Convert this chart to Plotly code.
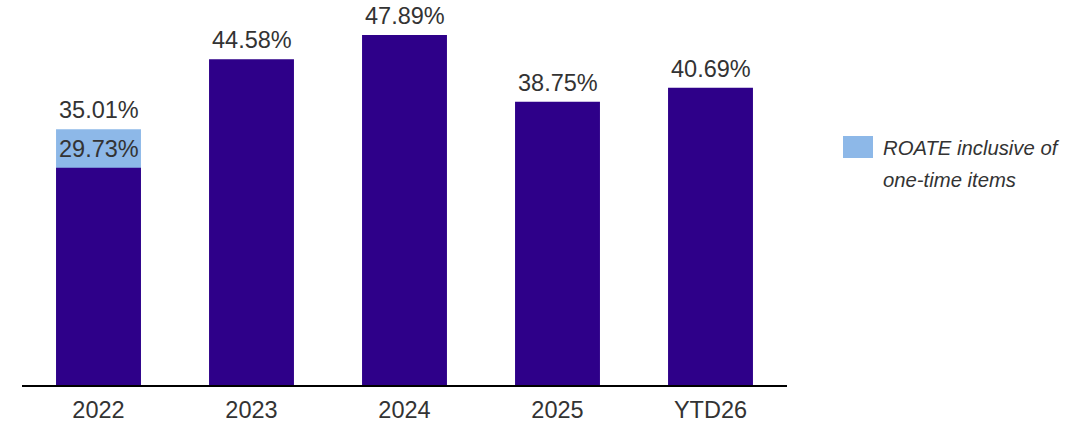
import plotly.graph_objects as go

categories = ["2022", "2023", "2024", "2025", "YTD26"]
roate_values = [29.73, 44.58, 47.89, 38.75, 40.69]
inclusive_categories = ["2022"]
inclusive_values = [35.01]
legend_lines = ["ROATE inclusive of", "one-time items"]

DARK = "#2E0089"
LIGHT = "#8DB8E8"
FONT = "Liberation Sans"
TXT = "#333333"
LABEL_SIZE = 23.5

fig = go.Figure()
fig.add_trace(go.Bar(
    x=inclusive_categories, y=inclusive_values,
    marker=dict(color=LIGHT, line=dict(width=0)),
    name="ROATE inclusive of one-time items", showlegend=False,
))
fig.add_trace(go.Bar(
    x=categories, y=roate_values,
    marker=dict(color=DARK, line=dict(width=0)),
    name="ROATE", showlegend=False,
))

for cat, val in list(zip(inclusive_categories, inclusive_values)) + list(zip(categories, roate_values)):
    fig.add_annotation(x=categories.index(cat), y=val, xref="x", yref="y",
                       text=f"{val:.2f}%", showarrow=False,
                       yanchor="middle", yshift=19,
                       font=dict(family=FONT, size=LABEL_SIZE, color=TXT))

fig.add_shape(type="rect", xref="paper", yref="paper",
              x0=(843 - 22) / 765, x1=(873 - 22) / 765,
              y0=(385 - 158) / 385, y1=(385 - 136) / 385,
              fillcolor=LIGHT, line=dict(width=0))
for i, line in enumerate(legend_lines):
    fig.add_annotation(xref="paper", yref="paper",
                       x=(881 - 22) / 765, y=(385 - (148 + 32 * i)) / 385,
                       xanchor="left", yanchor="middle", align="left",
                       text=f"<i>{line}</i>", showarrow=False,
                       font=dict(family=FONT, size=20.3, color=TXT))

fig.update_layout(
    width=1079, height=426,
    margin=dict(l=22, r=292, t=0, b=41),
    barmode="overlay", bargap=0.445,
    plot_bgcolor="white", paper_bgcolor="white",
    showlegend=False,
)
fig.update_xaxes(type="category", categoryorder="array", categoryarray=categories,
                 range=[-0.5, len(categories) - 0.5],
                 showline=True, linecolor="black", linewidth=2,
                 tickfont=dict(family=FONT, size=LABEL_SIZE, color=TXT),
                 ticks="", showgrid=False, ticklabelstandoff=3)
fig.update_yaxes(range=[0, 52.68], visible=False, showgrid=False)

fig.write_html("out.html")
